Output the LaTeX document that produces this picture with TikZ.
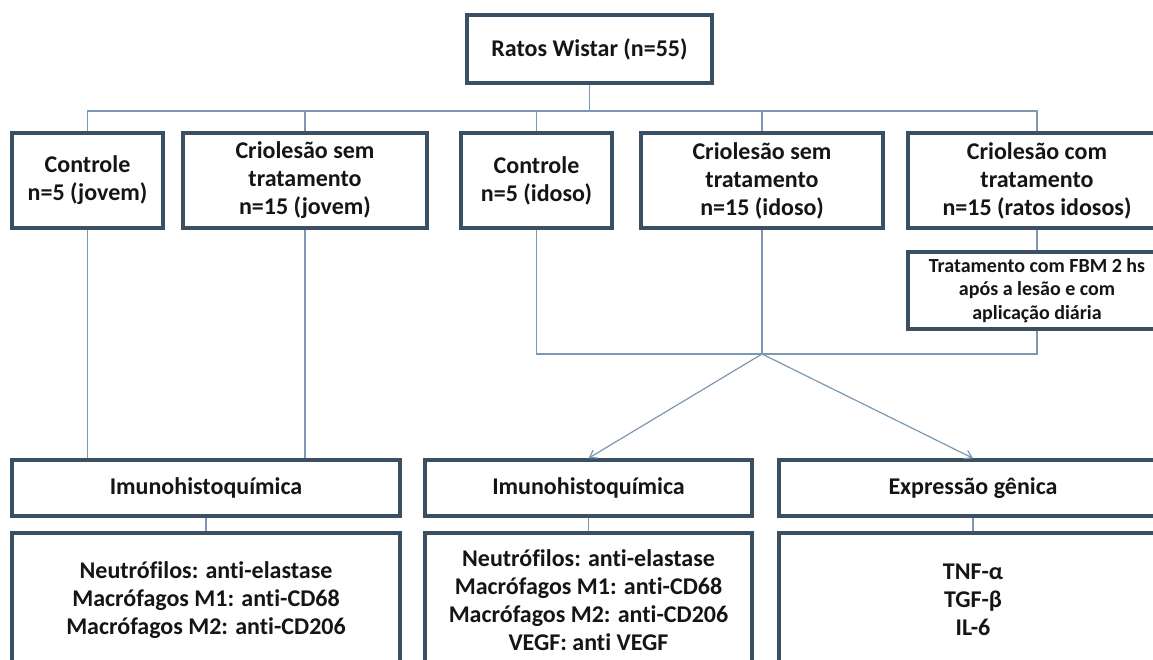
\documentclass[tikz,border=0pt]{standalone}
\usepackage{fontspec}
\setmainfont{Carlito}[Ligatures={NoCommon}]
\usetikzlibrary{arrows.meta}
\definecolor{boxline}{HTML}{3B4F63}
\definecolor{connc}{HTML}{7D98B3}
\definecolor{txt}{HTML}{151515}
\begin{document}
\begin{tikzpicture}[x=1pt,y=-1pt,
  box/.style={draw=boxline,line width=3.5pt,fill=white,align=center,text=txt,
    font=\bfseries\fontsize{24}{28}\selectfont,inner sep=0pt},
  smallbox/.style={box,font=\bfseries\fontsize{20}{23.5}\selectfont},
  conn/.style={draw=connc,line width=1.2pt},
  arr/.style={conn,-{Straight Barb[length=7pt,width=9pt]}}]
\clip (0,0) rectangle (1153,660);
\fill[white] (0,0) rectangle (1153,660);

% top
\node[box,minimum width=245pt,minimum height=68pt] (top) at (589.5,49) {Ratos Wistar (n=55)};
\coordinate (bus) at (589.5,111);

% groups
\node[box,minimum width=151pt,minimum height=95pt] (c1) at (87.5,180.5) {Controle\\n=5 (jovem)};
\node[box,minimum width=244pt,minimum height=95pt] (c2) at (305,180.5) {Criolesão sem\\tratamento\\n=15 (jovem)};
\node[box,minimum width=151pt,minimum height=95pt] (c3) at (536.5,180.5) {Controle\\n=5 (idoso)};
\node[box,minimum width=242pt,minimum height=95pt] (c4) at (762,180.5) {Criolesão sem\\tratamento\\n=15 (idoso)};
\node[box,minimum width=258pt,minimum height=95pt] (c5) at (1037,180.5) {Criolesão com\\tratamento\\n=15 (ratos idosos)};
\node[smallbox,minimum width=258pt,minimum height=77pt] (fbm) at (1037,290.5) {Tratamento com FBM 2 hs\\após a lesão e com\\aplicação diária};
\coordinate (j) at (762,354);

% analyses
\node[box,minimum width=388pt,minimum height=56pt] (i1) at (206,488) {Imunohistoquímica};
\node[box,minimum width=327pt,minimum height=56pt] (i2) at (588.5,488) {Imunohistoquímica};
\node[box,minimum width=388pt,minimum height=56pt] (e3) at (973,488) {Expressão gênica};

\node[box,minimum width=388pt,minimum height=134pt] (l1) at (206,600) {Neutrófilos: anti-elastase\\Macrófagos M1: anti-CD68\\Macrófagos M2: anti-CD206};
\node[box,minimum width=327pt,minimum height=134pt] (l2) at (588.5,600) {Neutrófilos: anti-elastase\\Macrófagos M1: anti-CD68\\Macrófagos M2: anti-CD206\\VEGF: anti VEGF};
\node[box,minimum width=388pt,minimum height=134pt] (l3) at (973,600) {TNF-α\\TGF-β\\IL-6};

% connectors
\draw[conn] (top.south) -- (bus);
\draw[conn] (c1.north) |- (bus);
\draw[conn] (c2.north) |- (bus);
\draw[conn] (c3.north) |- (bus);
\draw[conn] (c4.north) |- (bus);
\draw[conn] (c5.north) |- (bus);

\draw[conn] (c1.south) -- (c1.south |- i1.north);
\draw[conn] (c2.south) -- (c2.south |- i1.north);

\draw[conn] (c3.south) |- (j);
\draw[conn] (c4.south) -- (j);
\draw[conn] (c5.south) -- (fbm.north);
\draw[conn] (fbm.south) |- (j);

\draw[arr] (j) -- (i2.north);
\draw[arr] (j) -- (e3.north);

\draw[conn] (i1.south) -- (l1.north);
\draw[conn] (i2.south) -- (l2.north);
\draw[conn] (e3.south) -- (l3.north);
\end{tikzpicture}
\end{document}
